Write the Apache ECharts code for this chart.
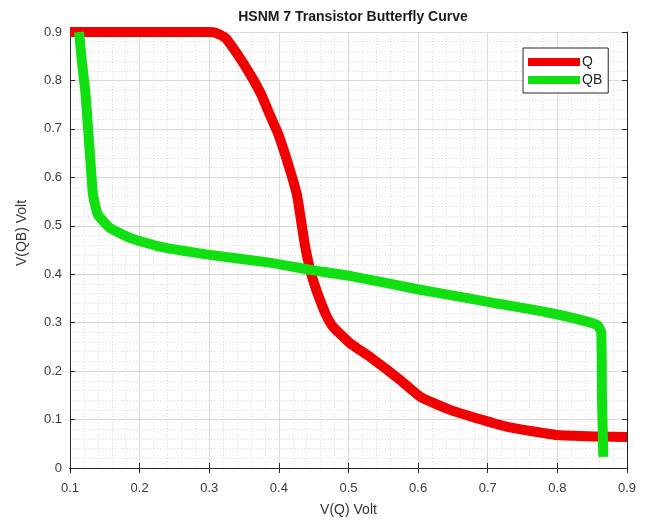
<!DOCTYPE html>
<html>
<head>
<meta charset="utf-8">
<script src="https://cdn.jsdelivr.net/npm/echarts@6/dist/echarts.min.js"></script>
<style>html,body{margin:0;padding:0;background:#fff}#c{width:645px;height:524px}</style>
</head>
<body>
<div id="c"></div>
<script>
const titleText = 'HSNM 7 Transistor Butterfly Curve';
const xName = 'V(Q) Volt';
const yName = 'V(QB) Volt';
const seriesNames = ['Q', 'QB'];

const qX = [0.1, 0.3, 0.31, 0.323, 0.34, 0.359, 0.375, 0.387, 0.399, 0.409, 0.418, 0.426, 0.433, 0.438, 0.445, 0.452, 0.459, 0.468, 0.478, 0.502, 0.531, 0.574, 0.603, 0.646, 0.693, 0.728, 0.8, 0.861, 0.9];
const qY = [0.9, 0.9, 0.898, 0.888, 0.855, 0.812, 0.77, 0.729, 0.69, 0.647, 0.605, 0.564, 0.5, 0.455, 0.409, 0.375, 0.347, 0.315, 0.291, 0.258, 0.229, 0.182, 0.147, 0.12, 0.099, 0.085, 0.068, 0.065, 0.064];

const qbX = [0.113, 0.117, 0.122, 0.126, 0.129, 0.133, 0.14, 0.157, 0.186, 0.229, 0.301, 0.387, 0.445, 0.5, 0.603, 0.646, 0.7, 0.79, 0.843, 0.858, 0.863, 0.864, 0.866];
const qbY = [0.9, 0.84, 0.777, 0.7, 0.64, 0.564, 0.523, 0.496, 0.475, 0.457, 0.44, 0.424, 0.409, 0.397, 0.368, 0.357, 0.343, 0.32, 0.302, 0.294, 0.28, 0.15, 0.023];

const xMin = 0.1, xMax = 0.9, xStep = 0.1;
const yMin = 0, yMax = 0.9, yStep = 0.1;

const pairs = (xs, ys) => xs.map((x, i) => [x, ys[i]]);
const font = 'Arial, "Liberation Sans", Helvetica, sans-serif';
const fmt = v => (Math.round(v * 10) / 10).toString();

const baseAxis = {
  type: 'value',
  axisLine: { show: true, lineStyle: { color: '#262626', width: 1 } },
  axisTick: { show: true, inside: true, length: 5, lineStyle: { color: '#262626' } },
  splitLine: { show: true, lineStyle: { color: '#dadada', width: 1 } },
  minorTick: { show: false, splitNumber: 5 },
  minorSplitLine: { show: true, lineStyle: { color: '#dcdcdc', type: [1, 2], width: 1 } },
  axisLabel: { color: '#3a3a3a', fontSize: 13, fontFamily: font, formatter: fmt }
};
const ghostAxis = (pos, min, max, step) => ({
  type: 'value', position: pos, min, max, interval: step,
  axisLine: { show: true, lineStyle: { color: '#262626', width: 1 } },
  axisTick: { show: true, inside: true, length: 5, lineStyle: { color: '#262626' } },
  axisLabel: { show: false }, splitLine: { show: false }
});

const chart = echarts.init(document.getElementById('c'), null, { renderer: 'canvas' });
chart.setOption({
  backgroundColor: '#fff',
  animation: false,
  title: {
    text: titleText, left: 348, top: 5, textAlign: 'center',
    textStyle: { fontFamily: font, fontSize: 14, fontWeight: 'bold', color: '#1a1a1a' }
  },
  grid: { left: 70, right: 18, top: 32, bottom: 56, show: true, backgroundColor: '#fff', borderColor: '#262626', borderWidth: 0 },
  legend: {
    data: seriesNames, orient: 'vertical', left: 523, top: 48,
    icon: 'rect', itemWidth: 52, itemHeight: 8, itemGap: 4,
    padding: [7, 6, 6, 5],
    backgroundColor: '#fff', borderColor: '#262626', borderWidth: 1, borderRadius: 0,
    textStyle: { fontFamily: font, fontSize: 14, color: '#222', padding: [0, 0, 0, -3] }
  },
  xAxis: [Object.assign({}, baseAxis, {
    min: xMin, max: xMax, interval: xStep, position: 'bottom',
    name: xName, nameLocation: 'middle', nameGap: 35,
    nameTextStyle: { fontFamily: font, fontSize: 14, color: '#333' },
    axisLabel: Object.assign({}, baseAxis.axisLabel, { margin: 14 })
  }), ghostAxis('top', xMin, xMax, xStep)],
  yAxis: [Object.assign({}, baseAxis, {
    min: yMin, max: yMax, interval: yStep, position: 'left',
    name: yName, nameLocation: 'middle', nameGap: 41,
    nameTextStyle: { fontFamily: font, fontSize: 14, color: '#333', padding: [0, 0, 0, 34] },
    axisLabel: Object.assign({}, baseAxis.axisLabel, { margin: 8 })
  }), ghostAxis('right', yMin, yMax, yStep)],
  series: [
    {
      name: seriesNames[0], type: 'line', data: pairs(qX, qY), xAxisIndex: 0, yAxisIndex: 0,
      showSymbol: false, symbol: 'none', color: '#f00000', smooth: 0.15,
      lineStyle: { color: '#f00000', width: 10, join: 'round', cap: 'butt' }, z: 3
    },
    {
      name: seriesNames[1], type: 'line', data: pairs(qbX, qbY), xAxisIndex: 0, yAxisIndex: 0,
      showSymbol: false, symbol: 'none', color: '#10e010', smooth: 0.15,
      lineStyle: { color: '#10e010', width: 10, join: 'round', cap: 'butt' }, z: 4
    }
  ]
});
</script>
</body>
</html>
